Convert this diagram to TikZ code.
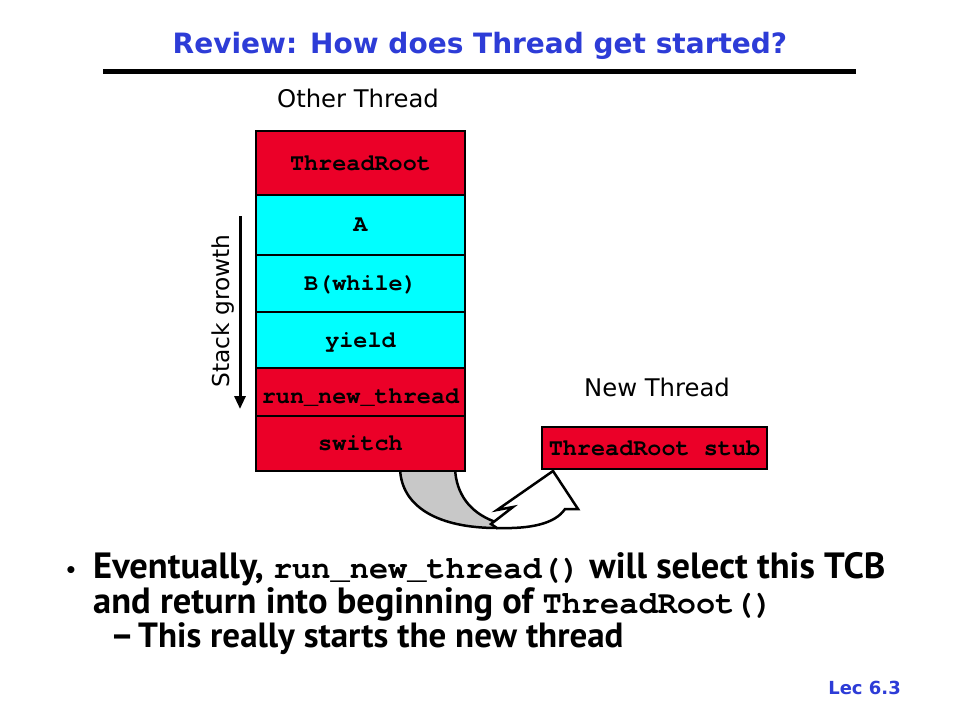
\documentclass[tikz,border=0pt]{standalone}
\usepackage{fontspec}
\setmainfont{DejaVu Sans}
\newfontfamily\bodyfont{PT Sans}
\setmonofont{texgyrecursor}[Extension=.otf, UprightFont=*-regular, BoldFont=*-bold]
\usetikzlibrary{arrows.meta}
\definecolor{slred}{RGB}{235,0,40}
\definecolor{slcyan}{RGB}{0,255,255}
\definecolor{slblue}{RGB}{45,60,215}
\definecolor{slgray}{RGB}{200,200,200}
\newcommand{\bodymono}{\fontsize{32}{36}\selectfont\ttfamily}
\tikzset{
  stackbox/.style={draw=black, line width=2.5pt, minimum width=209pt, inner sep=0pt},
  redbox/.style={stackbox, fill=slred},
  cyanbox/.style={stackbox, fill=slcyan},
  boxtxt/.style={font=\fontsize{23.5}{28}\selectfont\ttfamily\bfseries, anchor=base, inner sep=0pt},
  lbl/.style={font=\fontsize{24.3}{30}\selectfont, anchor=base, inner sep=0pt},
  body/.style={font=\bodyfont\fontsize{36.5}{40}\selectfont\bfseries, anchor=base west, inner sep=0pt}
}
\begin{document}
\begin{tikzpicture}[x=1pt,y=-1pt]
\useasboundingbox[fill=white] (0,0) rectangle (960,720);

% title
\node[font=\fontsize{28}{34}\selectfont\bfseries, text=slblue, anchor=base, inner sep=0pt] (title) at (480,53) {Review: How does Thread get started?};
\coordinate (ul1) at (103,71.5);
\coordinate (ul2) at (856,71.5);
\draw[line width=4.5pt] (ul1) -- (ul2);

% curved arrow (drawn first, boxes cover its top)
\draw[line width=2.5pt, fill=slgray, line join=round]
  (400,468) .. controls (401,508) and (440,528) .. (497,528)
  -- (493,521) .. controls (470,512) and (456,494) .. (455,468) -- cycle;
\draw[line width=2.5pt, fill=white, line join=miter]
  (491,524) -- (513,507) -- (497,510) -- (553,471) -- (578,509) -- (565,509)
  .. controls (555,524) and (530,529) .. (497,528) -- cycle;

% labels
\node[lbl] (other) at (358,107) {Other Thread};
\node[lbl] (new) at (657,396) {New Thread};

% stack
\node[redbox, minimum height=64pt] (tr) at (360.5,163) {};
\node[cyanbox, minimum height=60pt] (a) at (360.5,225) {};
\node[cyanbox, minimum height=57pt] (b) at (360.5,283.5) {};
\node[cyanbox, minimum height=56pt] (yl) at (360.5,340) {};
\node[redbox, minimum height=48pt] (rnt) at (360.5,392) {};
\node[redbox, minimum height=55pt] (sw) at (360.5,443.5) {};
\node[boxtxt] (trt) at (360.5,170) {ThreadRoot};
\node[boxtxt] (at) at (360.5,231) {A};
\node[boxtxt] (bt) at (360.5,290) {B(while)};
\node[boxtxt] (ylt) at (360.5,347) {yield};
\node[boxtxt] (rntt) at (360.5,403) {run\_new\_thread};
\node[boxtxt] (swt) at (360.5,450) {switch};

\node[redbox, minimum width=225pt, minimum height=42pt] (stub) at (654.5,448) {};
\node[boxtxt] (stubt) at (654.5,455) {ThreadRoot stub};

% stack growth
\coordinate (gs) at (240,216);
\coordinate (ge) at (240,409);
\draw[line width=3pt, -{Triangle[length=13pt,width=11pt]}] (gs) -- (ge);
\node[font=\fontsize{23.3}{28}\selectfont, rotate=90, anchor=base, inner sep=0pt] (sg) at (229,311) {Stack growth};

% bullets
\node[font=\fontsize{20}{26}\selectfont\bfseries, anchor=base] (dot) at (71,577) {•};
\node[body] (l1) at (93,578) {Eventually, {\bodymono run\_new\_thread()} will select this TCB};
\node[body] (l2) at (93,613) {and return into beginning of {\bodymono ThreadRoot()}};
\node[body] (dash) at (110,647) {–};
\node[body, font=\bodyfont\fontsize{35}{40}\selectfont\bfseries] (l3) at (138,647) {This really starts the new thread};

\node[font=\fontsize{18}{22}\selectfont\bfseries, text=slblue, anchor=base east, inner sep=0pt] (lec) at (901,694) {Lec 6.3};
\end{tikzpicture}
\end{document}
